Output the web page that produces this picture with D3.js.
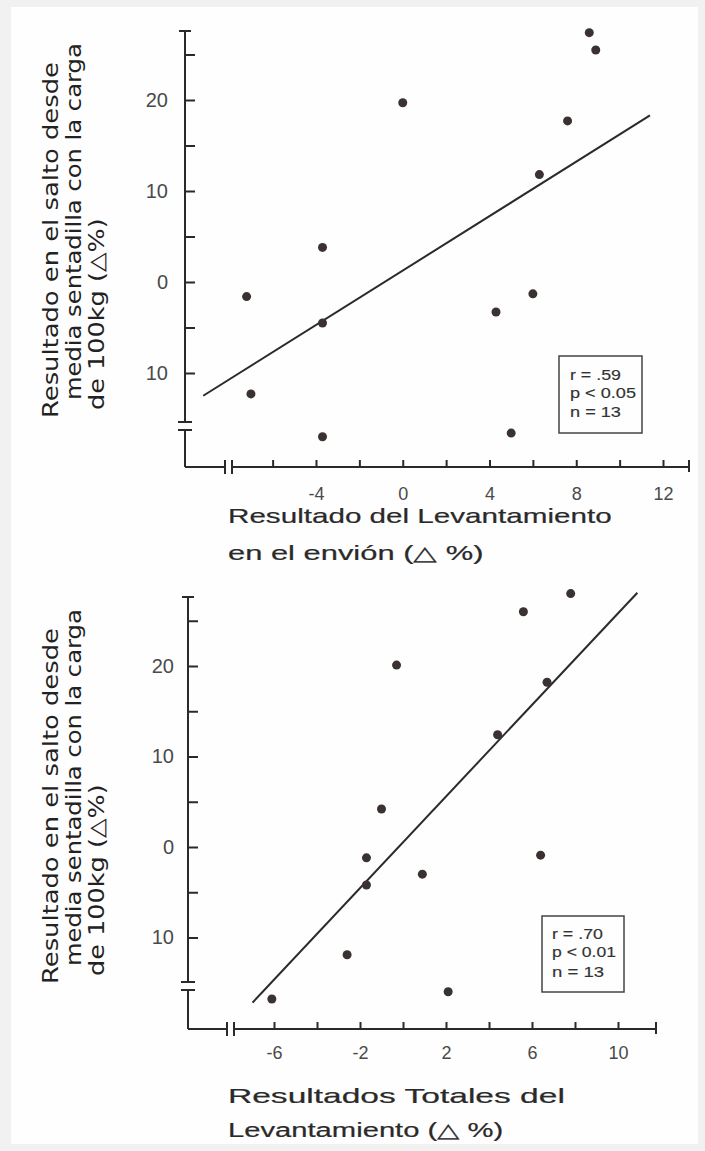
<!DOCTYPE html>
<html>
<head>
<meta charset="utf-8">
<script src="https://cdnjs.cloudflare.com/ajax/libs/d3/7.8.5/d3.min.js"></script>
<style>
body{margin:0;background:#f1f1f1;}
svg{display:block;}
.tick line{stroke:#2a2a2a;stroke-width:2;}
.tick text{font-family:"Liberation Sans",Arial,sans-serif;fill:#4a4a4a;}
</style>
</head>
<body>
<svg id="chart" width="705" height="1151"></svg>
<script>
// values (delta %)
var top_x = [8.6, 8.9, 0.0, 7.6, 6.3, -3.7, -7.2, -3.7, -7.0, -3.7, 4.3, 6.0, 5.0];
var top_y = [27.4, 25.5, 19.7, 17.7, 11.8, 3.8, -1.6, -4.5, -12.3, -17.0, -3.3, -1.3, -16.6];
var top_fit_x = [-9.2, 11.4];
var top_fit_y = [-12.5, 18.3];
var top_stats = ["r = .59", "p < 0.05", "n = 13"];
var top_xlabels = [-4, 0, 4, 8, 12];
var top_xticks = [-6, -4, -2, 0, 2, 4, 6, 8, 10, 12];

var bot_x = [-0.3, -1.0, 7.8, 5.6, 6.7, 4.4, -1.7, -1.7, 0.9, -2.6, -6.1, 6.4, 2.1];
var bot_y = [20.1, 4.2, 28.0, 26.0, 18.2, 12.4, -1.2, -4.2, -3.0, -11.9, -16.8, -0.9, -16.0];
var bot_fit_x = [-7.0, 10.9];
var bot_fit_y = [-17.2, 28.1];
var bot_stats = ["r = .70", "p < 0.01", "n = 13"];
var bot_xlabels = [-6, -2, 2, 6, 10];
var bot_xticks = [-6, -4, -2, 0, 2, 4, 6, 8, 10];

var y_labels = [20, 10, 0, -10];
var y_ticks = [-10, -5, 0, 5, 10, 15, 20, 25];

var ytitle = ["Resultado en el salto desde", "media sentadilla con la carga", "de 100kg (\u25B3%)"];
var top_xtitle = ["Resultado del Levantamiento", "en el envi\u00f3n  (\u25B3 %)"];
var bot_xtitle = ["Resultados Totales del", "Levantamiento  (\u25B3 %)"];

var svg = d3.select("#chart");
svg.append("rect").attr("x", 11).attr("y", 7).attr("width", 687).attr("height", 1137).attr("fill", "#fefefe");

var charts = [
  {xs: top_x, ys: top_y, fx: top_fit_x, fy: top_fit_y, stats: top_stats,
   xlabels: top_xlabels, xticks: top_xticks, xtitle: top_xtitle,
   xdom: [-4, 12], xrng: [316, 663], ydom: [0, 20], yrng: [282, 100],
   ax: 185, ay: 467, ytop: 31, ybrk: 422, xbrk: 225, xend: 689,
   ypad: 17, xpad: 20, box: [559, 356, 83, 77], tx: 570, ty: [380, 398, 417], tw: [51, 66, 51],
   dy: 0, xt: [[523, 384], [560, 255]]},
  {xs: bot_x, ys: bot_y, fx: bot_fit_x, fy: bot_fit_y, stats: bot_stats,
   xlabels: bot_xlabels, xticks: bot_xticks, xtitle: bot_xtitle,
   xdom: [-6, 10], xrng: [274, 618], ydom: [0, 20], yrng: [847, 666],
   ax: 188, ay: 1029, ytop: 597, ybrk: 982, xbrk: 227, xend: 656,
   ypad: 14, xpad: 17, box: [542, 916, 82, 76], tx: 552, ty: [939, 957, 977], tw: [51, 64, 52],
   dy: 566, xt: [[1103, 337], [1137, 275]]}
];

var ytitle_pos = [[58, 418, 356], [81, 400, 357], [104, 410, 192]];

// stretch a text node horizontally (in its own frame) to a given length
function fit(sel, pre, len) {
  sel.each(function(d, i) {
    var w = this.getComputedTextLength();
    d3.select(this).attr("transform", pre(d, i) + " scale(" + (len(d, i) / w) + ",1)");
  });
}

charts.forEach(function(c) {
  var x = d3.scaleLinear().domain(c.xdom).range(c.xrng);
  var y = d3.scaleLinear().domain(c.ydom).range(c.yrng);
  var g = svg.append("g");
  var ink = "#2a2a2a";

  // y axis ticks + labels (ticks point inward)
  var yax = d3.axisLeft(y).tickValues(y_ticks).tickSize(-10).tickSizeOuter(0).tickPadding(c.ypad)
    .tickFormat(function(d) { return y_labels.indexOf(d) > -1 ? Math.abs(d) : ""; });
  g.append("g").attr("transform", "translate(" + c.ax + ",0)").call(yax)
    .call(function(s) { s.select(".domain").remove(); s.selectAll("text").attr("font-size", 20); });

  var xax = d3.axisBottom(x).tickValues(c.xticks).tickSize(-7).tickSizeOuter(0).tickPadding(c.xpad)
    .tickFormat(function(d) { return c.xlabels.indexOf(d) > -1 ? d : ""; });
  g.append("g").attr("transform", "translate(0," + c.ay + ")").call(xax)
    .call(function(s) { s.select(".domain").remove(); s.selectAll("text").attr("font-size", 18); });

  // axis lines with breaks
  var lines = [
    [c.ax, c.ytop, c.ax, c.ybrk], [c.ax, c.ybrk + 8, c.ax, c.ay],
    [c.ax - 7, c.ybrk, c.ax + 7, c.ybrk], [c.ax - 7, c.ybrk + 8, c.ax + 7, c.ybrk + 8],
    [c.ax - 6, c.ytop, c.ax + 6, c.ytop],
    [c.ax, c.ay, c.xbrk, c.ay], [c.xbrk + 7, c.ay, c.xend, c.ay],
    [c.xbrk, c.ay - 7, c.xbrk, c.ay + 7], [c.xbrk + 7, c.ay - 7, c.xbrk + 7, c.ay + 7],
    [c.xend, c.ay - 7, c.xend, c.ay + 5]
  ];
  g.selectAll(".axl").data(lines).enter().append("line")
    .attr("x1", function(d) { return d[0]; }).attr("y1", function(d) { return d[1]; })
    .attr("x2", function(d) { return d[2]; }).attr("y2", function(d) { return d[3]; })
    .attr("stroke", ink).attr("stroke-width", 2);

  // regression line
  g.append("line")
    .attr("x1", x(c.fx[0])).attr("y1", y(c.fy[0]))
    .attr("x2", x(c.fx[1])).attr("y2", y(c.fy[1]))
    .attr("stroke", ink).attr("stroke-width", 2);

  // points
  g.selectAll(".pt").data(c.xs).enter().append("circle")
    .attr("cx", function(d) { return x(d); })
    .attr("cy", function(d, i) { return y(c.ys[i]); })
    .attr("r", 4.5).attr("fill", "#3a3230");

  // stats box
  g.append("rect").attr("x", c.box[0]).attr("y", c.box[1]).attr("width", c.box[2]).attr("height", c.box[3])
    .attr("fill", "none").attr("stroke", "#444").attr("stroke-width", 1.5);
  g.selectAll(".st").data(c.stats).enter().append("text")
    .attr("font-family", "Liberation Sans, Arial, sans-serif").attr("font-size", 15)
    .attr("fill", "#333").attr("stroke", "#333").attr("stroke-width", 0.15)
    .text(function(d) { return d; })
    .call(fit, function(d, i) { return "translate(" + c.tx + "," + c.ty[i] + ")"; },
               function(d, i) { return c.tw[i]; });

  // y title (rotated)
  g.selectAll(".yt").data(ytitle).enter().append("text")
    .attr("font-family", "DejaVu Sans, sans-serif").attr("font-size", 21)
    .attr("fill", "#222").text(function(d) { return d; })
    .call(fit, function(d, i) { return "translate(" + ytitle_pos[i][0] + "," + (ytitle_pos[i][1] + c.dy) + ") rotate(-90)"; },
               function(d, i) { return ytitle_pos[i][2]; });

  // x title
  g.selectAll(".xt").data(c.xtitle).enter().append("text")
    .attr("font-family", "Liberation Sans, Arial, sans-serif").attr("font-size", 20)
    .attr("fill", "#2a2a2a").attr("stroke", "#2a2a2a").attr("stroke-width", 0.2)
    .text(function(d) { return d; })
    .call(fit, function(d, i) { return "translate(228," + c.xt[i][0] + ")"; },
               function(d, i) { return c.xt[i][1]; });
});
</script>
</body>
</html>
